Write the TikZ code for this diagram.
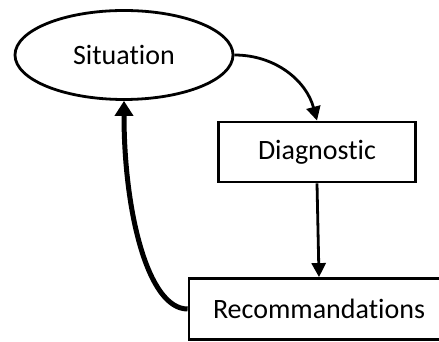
\documentclass[tikz,border=0pt]{standalone}
\usepackage{fontspec}
\setmainfont{Carlito}[Ligatures = NoCommon]
\usetikzlibrary{arrows.meta, shapes.geometric}

\begin{document}
\begin{tikzpicture}[x = 1pt, y = 1pt, > = {Triangle[length = 14pt, width = 14pt]},
	every node/.style = {font = \fontsize{28}{34}\selectfont, draw, line width = 2.8pt, inner sep = 0pt},
	etape/.style = {rectangle, minimum height = 60pt},
	lien/.style = {->, line width = 2.8pt},
	retour/.style = {-{Triangle[length = 15pt, width = 18pt]}, line width = 5pt}]

	% Frame
	
	\useasboundingbox (0, 0) rectangle (439, 342);
	
	% Steps
	
	\node [ellipse, minimum width = 218pt, minimum height = 89pt] (sit) at (124, 287) {Situation};
	\node [etape, minimum width = 197pt] (diag) at (317, 190) {Diagnostic};
	\node [etape, minimum width = 260pt, minimum height = 61pt] (reco) at (319, 33) {Recommandations};
	
	% Links
	
	\draw [lien] (sit.east) to [out = 0, in = 105] (diag.north);
	\draw [lien] (diag.south) -- (reco.north);
	
	% Loop back
	
	\draw [retour] (reco.west) .. controls +(-40, 0) and +(0, -110) .. (sit.south);

\end{tikzpicture}
\end{document}
